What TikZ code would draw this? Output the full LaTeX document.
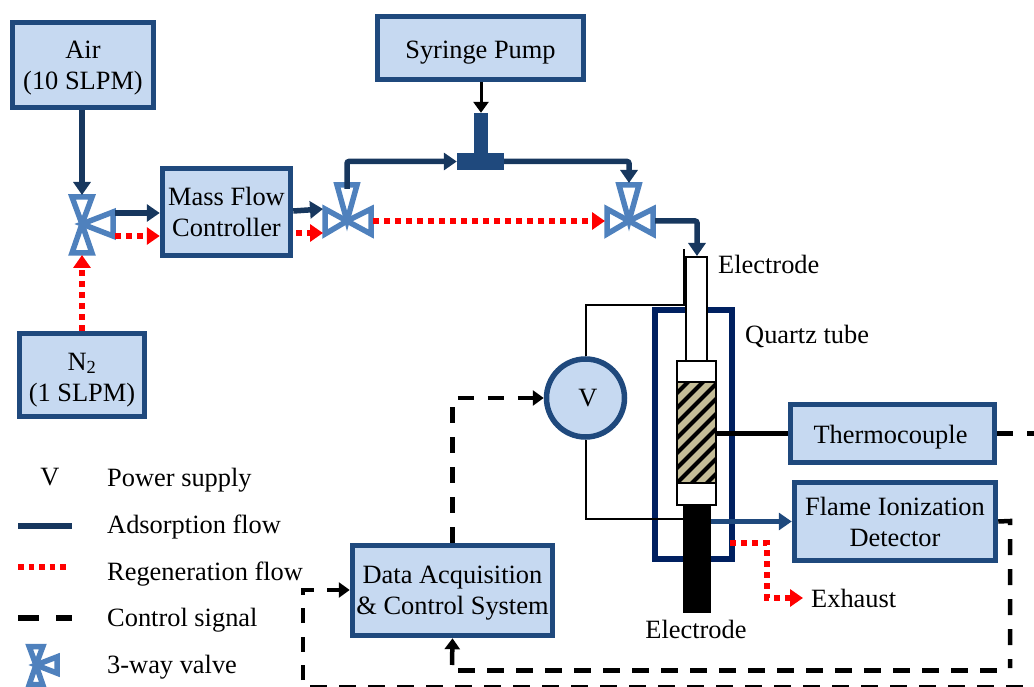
\documentclass[tikz,border=0pt]{standalone}
\usepackage{fontspec}
\setmainfont{Liberation Serif}
\usetikzlibrary{arrows.meta,calc}
\definecolor{boxfill}{HTML}{C6D9F1}
\definecolor{boxedge}{HTML}{1F497D}
\definecolor{valveblue}{HTML}{4F81BD}
\definecolor{flowblue}{HTML}{17375E}
\definecolor{quartzblue}{HTML}{002060}
\definecolor{bedtan}{HTML}{C4BD97}
\newcommand{\boxtext}[2]{\raisebox{-#1pt}[\height][\depth]{\begin{tabular}{@{}c@{}}#2\end{tabular}}}
\tikzset{
  unitbox/.style={draw=boxedge,fill=boxfill,line width=5.5pt,align=center,inner sep=0pt},
  textlabel/.style={inner sep=0pt,anchor=west},
  adsflow/.style={color=flowblue,line width=5.5pt,rounded corners=2pt,-{Triangle[length=13pt,width=17pt]}},
  regenflow/.style={color=red,line width=5.5pt,dash pattern=on 5.5pt off 5.5pt,-{Triangle[length=13pt,width=17pt]}},
  ctrlsignal/.style={line width=4.5pt,dash pattern=on 16pt off 14pt},
  ctrlshort/.style={line width=4.5pt,dash pattern=on 17pt off 12pt},
  ctrltip/.style={-{Triangle[length=11pt,width=15pt]}},
  wire/.style={line width=2pt},
  electrodepart/.style={draw,fill=white,line width=2pt,inner sep=0pt},
  valveside/.pic={
    \draw[valveblue,line width=5.5pt,miter limit=20] (-10,-27)--(10,-27)--(0,0)--cycle;
    \draw[valveblue,line width=5.5pt,miter limit=20] (-10,29)--(10,29)--(0,0)--cycle;
    \draw[valveblue,line width=5.5pt,miter limit=20] (31,-12)--(31,12)--(0,0)--cycle;
    \coordinate (-top) at (0,-29);
    \coordinate (-bottom) at (0,31);
    \coordinate (-rightup) at (33,-11);
    \coordinate (-rightdown) at (33,12);
  },
  valvetee/.pic={
    \draw[valveblue,line width=5.5pt,miter limit=20] (-10,-36)--(10,-36)--(0,0)--cycle;
    \draw[valveblue,line width=5.5pt,miter limit=20] (-22,-12)--(-22,13)--(0,0)--cycle;
    \draw[valveblue,line width=5.5pt,miter limit=20] (24,-12)--(24,13)--(0,0)--cycle;
    \coordinate (-top) at (0,-38);
    \coordinate (-left) at (-24,0);
    \coordinate (-right) at (26,0);
    \coordinate (-leftup) at (-24,-12);
    \coordinate (-leftdown) at (-24,12);
  }
}

\begin{document}
\begin{tikzpicture}[x=1pt,y=-1pt,font=\fontsize{26.4}{31}\selectfont]
\useasboundingbox (0,0) rectangle (1034,687);
\clip (0,0) rectangle (1034,687);

% supply side
\node [unitbox,minimum width=141pt,minimum height=85pt] (air) at (83,65) {\boxtext{3}{Air\\(10 SLPM)}};
\node [unitbox,minimum width=125pt,minimum height=83pt] (nitrogen) at (82,375) {\boxtext{4.5}{N\textsubscript{2}\\(1 SLPM)}};
\node [unitbox,minimum width=128pt,minimum height=87pt] (mfc) at (226.5,212) {\boxtext{3}{Mass Flow\\Controller}};
\node [unitbox,minimum width=206pt,minimum height=63pt] (pump) at (480.5,48) {\boxtext{4}{Syringe Pump}};
\node [unitbox,minimum width=200pt,minimum height=90pt] (daq) at (452.5,590.5) {\boxtext{2.5}{Data Acquisition\\\& Control System}};
\node [unitbox,minimum width=204pt,minimum height=58pt] (thermo) at (892.5,433.5) {\hspace*{-4pt}\boxtext{3.5}{Thermocouple}};
\node [unitbox,minimum width=201pt,minimum height=78pt] (fid) at (895,521.5) {\boxtext{3.5}{Flame Ionization\\Detector}};
\node [unitbox,circle,minimum size=78pt] (supply) at (585.5,398) {\hspace*{5pt}V};

\pic (vinlet) at (82,224) {valveside};
\pic (vsplit) at (347,221) {valvetee};
\pic (vmerge) at (629,221) {valvetee};

% T piece
\node [fill=boxedge,inner sep=0pt,minimum width=14pt,minimum height=47pt] (tstem) at (481,136.5) {};
\node [fill=boxedge,inner sep=0pt,minimum width=47pt,minimum height=17pt] (tbar) at (480.5,161.5) {};

% reactor
\node [draw=quartzblue,line width=5.5pt,inner sep=0pt,minimum width=77pt,minimum height=249pt] (quartz) at (693.5,434.5) {};
\node [electrodepart,minimum width=21pt,minimum height=105pt] (tubetop) at (696.5,309.5) {};
\node [electrodepart,minimum width=39pt,minimum height=21pt] (captop) at (696.5,371.5) {};
\node [electrodepart,fill=bedtan,minimum width=39pt,minimum height=101pt] (bed) at (696.5,432.5) {};
\begin{scope}
\clip (677,382) rectangle (716,483);
\foreach \h in {385,400,...,535} {
  \draw [line width=4pt] (670,\h) -- ++(55,-55);
}
\end{scope}
\node [electrodepart,minimum width=39pt,minimum height=22pt] (capbot) at (696,494) {};
\node [fill=black,inner sep=0pt,minimum width=28pt,minimum height=108pt] (elecbot) at (697,559) {};

% wires
\coordinate (leadtop) at (684,249);
\coordinate (leadbend) at (684,305);
\draw [wire] (supply.north) |- (leadbend) -- (leadtop);
\draw [wire] (supply.south) |- (elecbot.west |- 0,519);

% adsorption flow
\draw [adsflow] (air.south -| vinlet-top) -- (vinlet-top);
\draw [adsflow] (vinlet-rightup) -- (mfc.west |- vinlet-rightup);
\draw [adsflow] (mfc.east |- 0,211) -- (vsplit-leftup);
\draw [adsflow] (vsplit-top) ++(0,6) |- (tbar.west);
\draw [adsflow] (tbar.east) -| (vmerge-top);
\draw [adsflow] (vmerge-right) -| (tubetop.north -| 697,0);
\draw [adsflow,color=boxedge] (elecbot.east |- fid.west) -- (fid.west);

% regeneration flow
\draw [regenflow] (nitrogen.north) -- (vinlet-bottom);
\draw [regenflow] (vinlet-rightdown) -- (mfc.west |- vinlet-rightdown);
\draw [regenflow] (mfc.east |- vsplit-leftdown) ++(3,0) -- (vsplit-leftdown);
\draw [regenflow] (vsplit-right) -- (vmerge-left);
\coordinate (exhaustend) at (803,598);
\coordinate (exhauststart) at (730,543);
\draw [regenflow] (exhauststart) -| (767,598) -- (exhaustend);

% feed and thermocouple lead
\draw [line width=3pt,-{Triangle[length=11pt,width=15pt]}] (pump.south -| tstem.north) -- (tstem.north);
\draw [line width=5pt] (bed.east |- thermo.west) -- (thermo.west);

% control signal
\draw [ctrlsignal,ctrltip] (daq.north) |- (supply.west);
\draw [ctrlsignal] (fid.east) -- (1010,521) -- (1010,668);
\draw [ctrlshort] (458,670.5) -- (1005,670.5);
\draw [line width=4.5pt,ctrltip] (452,665) -- (daq.south);
\draw [ctrlsignal] (thermo.east) -- (1050,433.5);
\draw [ctrlshort] (310,687.5) -- (1040,687.5);
\draw [line width=4.5pt,dash pattern=on 15pt off 13.5pt,ctrltip] (303,680) |- (daq.west |- 0,590);

% labels
\node [textlabel] (lbelectop) at (718,264) {Electrode};
\node [textlabel] (lbquartz) at (745,336) {Quartz tube};
\node [textlabel] (lbexhaust) at (811,598) {Exhaust};
\node [inner sep=0pt] (lbelecbot) at (696,629) {Electrode};

% legend
\node [inner sep=0pt] (keyv) at (50,477) {V};
\node [textlabel] (keypower) at (107,480) {Power supply};
\node [textlabel] (keyads) at (107,527) {Adsorption flow};
\node [textlabel] (keyregen) at (107,574) {Regeneration flow};
\node [textlabel] (keyctrl) at (107,620) {Control signal};
\node [textlabel] (keyvalve) at (107,667) {3-way valve};
\coordinate (keyadsa) at (18,526);
\coordinate (keyadsb) at (72,526);
\coordinate (keyregena) at (18,567);
\coordinate (keyregenb) at (68,567);
\coordinate (keyctrla) at (18,618);
\coordinate (keyctrlb) at (72,618);
\draw [color=flowblue,line width=5.5pt] (keyadsa) -- (keyadsb);
\draw [color=red,line width=5.5pt,dash pattern=on 5.5pt off 5pt] (keyregena) -- (keyregenb);
\draw [line width=5.5pt,dash pattern=on 21pt off 17pt] (keyctrla) -- (keyctrlb);
\pic [scale=0.68] (vkey) at (36,665) {valveside};
\end{tikzpicture}
\end{document}
